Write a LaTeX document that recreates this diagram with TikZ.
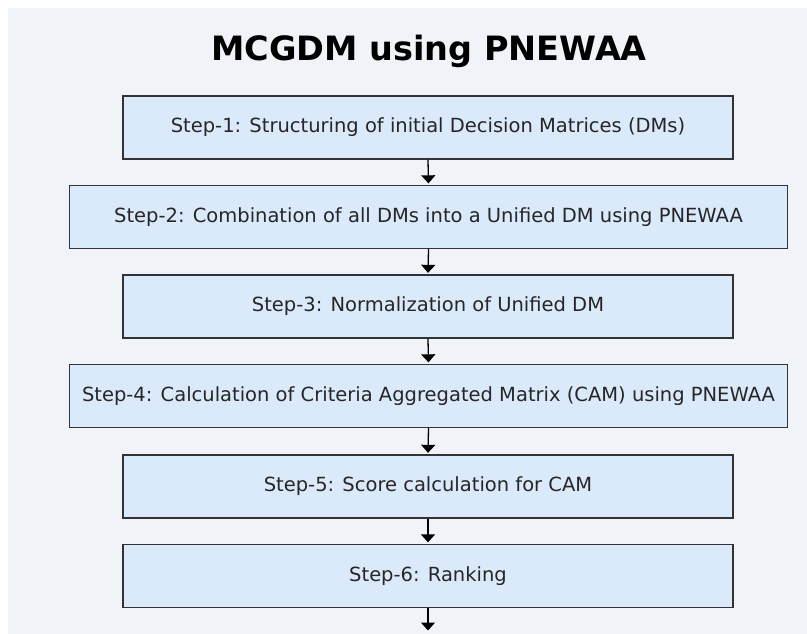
\documentclass[tikz,border=0pt]{standalone}
\usepackage{fontspec}
\setmainfont{DejaVu Sans}
\usetikzlibrary{arrows.meta}
\definecolor{bgpanel}{HTML}{F0F4F8}
\definecolor{stepfill}{HTML}{DBEAFA}
\definecolor{stepline}{HTML}{333333}
\tikzstyle{stepbox}=[draw=stepline,fill=stepfill,line width=1.3pt,inner sep=0pt,font=\fontsize{19.5}{23}\selectfont,text=black!85]
\tikzstyle{narrowbox}=[stepbox,minimum width=610pt,minimum height=63pt]
\tikzstyle{widebox}=[stepbox,minimum width=718pt,minimum height=63pt]
\tikzstyle{flow}=[-{Triangle[length=8pt,width=14pt]},line width=1.3pt,black,shorten >=1.5pt]

\begin{document}
\begin{tikzpicture}[x=1pt,y=-1pt]
    \useasboundingbox (0,0) rectangle (807,634);
    \fill[bgpanel] (8,8) rectangle (807,634);
    \node[font=\fontsize{33.5}{40}\selectfont\bfseries,anchor=base] (title) at (429,61) {MCGDM using PNEWAA};
    \node[narrowbox] (s1) at (428,127.5) {Step-1: Structuring of initial Decision Matrices (DMs)};
    \node[widebox]   (s2) at (428.5,217) {Step-2: Combination of all DMs into a Unified DM using PNEWAA};
    \node[narrowbox] (s3) at (428,306.5) {Step-3: Normalization of Unified DM};
    \node[widebox]   (s4) at (428.5,396) {Step-4: Calculation of Criteria Aggregated Matrix (CAM) using PNEWAA};
    \node[narrowbox] (s5) at (428,486.5) {Step-5: Score calculation for CAM};
    \node[narrowbox] (s6) at (428,576) {Step-6: Ranking};
    \coordinate (end) at (428,632);

    \foreach \from/\to in {s1/s2,s2/s3,s3/s4,s4/s5,s5/s6}
    \draw[flow] (\from.south) -- (\to.north);
    \draw[flow] (s6.south) -- (end);
\end{tikzpicture}
\end{document}
